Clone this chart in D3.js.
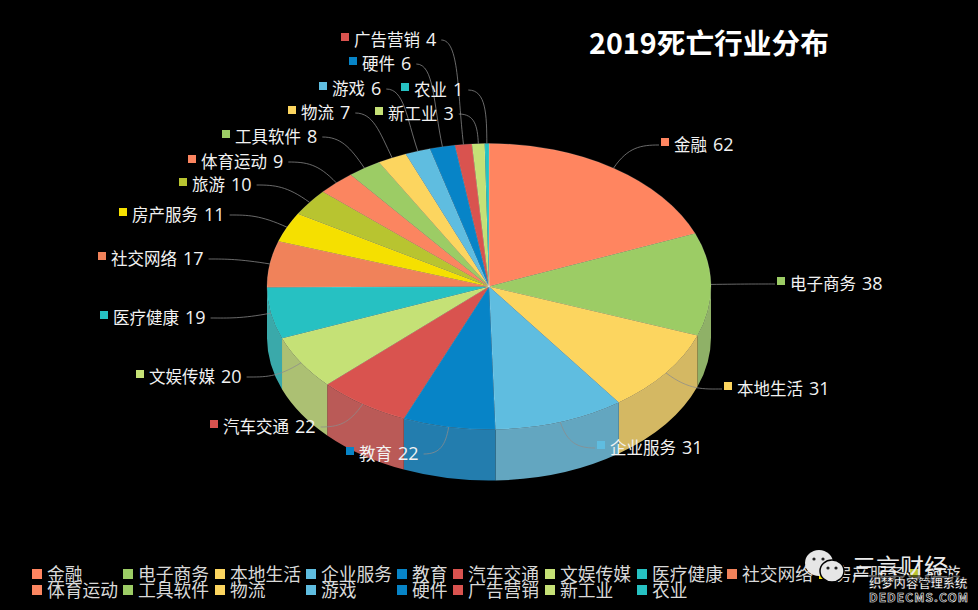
<!DOCTYPE html>
<html><head><meta charset="utf-8">
<script src="https://cdnjs.cloudflare.com/ajax/libs/d3/7.8.5/d3.min.js"></script>
<style>html,body{margin:0;background:#000;overflow:hidden}svg{display:block}text{font-family:"Noto Sans CJK SC","Noto Sans",sans-serif}</style>
</head><body><svg id="c" width="978" height="610"></svg>
<script>
const categories=["金融","电子商务","本地生活","企业服务","教育","汽车交通","文娱传媒","医疗健康","社交网络","房产服务","旅游","体育运动","工具软件","物流","游戏","硬件","广告营销","新工业","农业"];
const values=[62,38,31,31,22,22,20,19,17,11,10,9,8,7,6,6,4,3,1];
const colors=["#ff8560","#9ccc65","#fcd55f","#5fbde0","#0784c7","#d9534f","#c5e176","#26c1c2","#f0825a","#f5e000","#b8c430","#fb8560","#9ccc65","#fcd55f","#5fbde0","#0784c7","#d9534f","#c5e176","#26c1c2"];
const title="2019死亡行业分布";
// label anchors (layout): marker centre x, y
const labelX=[665,781,728,601,350,214,140,104,102,123,183,192,226,292,323,353,345,379,405];
const labelY=[142,281,386,445,451,424,374,315,256,212,182,159,134,110,86,61,37,111,87];

const svg=d3.select("#c");
const W=978,H=610,cx=489,cy=286.5,rx=222,ry=143,depth=51;
const pie=d3.pie().value(d=>d).sort(null)(values);
const k=ry/rx;
const px=a=>cx+rx*Math.sin(a),py=a=>cy-ry*Math.cos(a);
const wall=c=>d3.interpolateRgb(c,"#6c6c6c")(0.28);

// side walls
const sides=svg.append("g");
pie.forEach((s,i)=>{
  const a0=Math.max(s.startAngle,Math.PI/2),a1=Math.min(s.endAngle,Math.PI*1.5);
  if(a1<=a0)return;
  const d=`M${px(a0)},${py(a0)}A${rx},${ry} 0 0 1 ${px(a1)},${py(a1)}L${px(a1)},${py(a1)+depth}A${rx},${ry} 0 0 0 ${px(a0)},${py(a0)+depth}Z`;
  sides.append("path").attr("d",d).attr("fill",wall(colors[i]));
});

// top face
const arc=d3.arc().innerRadius(0).outerRadius(rx);
svg.append("g").attr("transform",`translate(${cx},${cy}) scale(1,${k})`)
 .selectAll("path").data(pie).join("path").attr("d",arc)
 .attr("fill",(d,i)=>colors[i]).attr("stroke","rgba(255,255,255,.28)").attr("stroke-width",.6);

// title
svg.append("text").attr("x",589).attr("y",41).attr("dominant-baseline","central")
 .attr("font-size",28.7).attr("font-weight",700).attr("fill","#fff").text(title);

// labels and leaders
const leaders=svg.append("g"),labels=svg.append("g");
pie.forEach((s,i)=>{
  const x=labelX[i],y=labelY[i];
  labels.append("rect").attr("x",x-4).attr("y",y-4).attr("width",8).attr("height",8).attr("fill",colors[i]);
  const t=labels.append("text").attr("x",x+9).attr("y",y+1.5).attr("dominant-baseline","central")
    .attr("font-size",16.5).attr("fill","#f2f2f2");
  t.append("tspan").text(categories[i]);
  t.append("tspan").attr("dx",6).attr("font-size",18).attr("font-family","Open Sans").text(values[i]);
  const m=(s.startAngle+s.endAngle)/2,sx=px(m),sy=py(m);
  const left=m>Math.PI;
  // right-side labels start at the marker, left-side ones leave from the end of the text
  const ex=left?x+9+t.node().getComputedTextLength()+11:x-6, ey=y+3;
  const dx=ex-sx,dy=ey-sy,len=Math.hypot(dx,dy);
  const ux=Math.sin(m),uy=-Math.cos(m);
  const p=d3.path();p.moveTo(sx,sy);
  p.bezierCurveTo(sx+ux*len*.5,sy+uy*len*.5,ex+(left?18:-18)*Math.min(1,len/40),ey,ex,ey);
  leaders.append("path").attr("d",p.toString()).attr("fill","none").attr("stroke","rgba(140,140,140,.75)").attr("stroke-width",1);
});

// legend
const legendCols=[32,123,215,306,397,453,545,637,727,819,910];
const legend=svg.append("g");
categories.forEach((c,i)=>{
  const col=i<11?i:i-11, row=i<11?0:1;
  const x=legendCols[col], y=row?589:573;
  legend.append("rect").attr("x",x).attr("y",y-4).attr("width",10).attr("height",10).attr("fill",colors[i]);
  legend.append("text").attr("x",x+15).attr("y",y).attr("dominant-baseline","central")
   .attr("font-size",17.8).attr("fill","#d9d9d9").text(c);
});

// watermark
const wm=svg.append("g");
wm.append("ellipse").attr("cx",819).attr("cy",563).attr("rx",14).attr("ry",13).attr("fill","#e6e6e6");
wm.append("ellipse").attr("cx",832).attr("cy",571).attr("rx",12).attr("ry",11).attr("fill","#e6e6e6").attr("stroke","#000").attr("stroke-width",1.5);
[[814,559],[823,559],[828,568],[836,568]].forEach(c=>wm.append("circle").attr("cx",c[0]).attr("cy",c[1]).attr("r",1.6).attr("fill","#222"));
wm.append("text").attr("x",852).attr("y",565).attr("dominant-baseline","central").attr("font-size",24).attr("fill","#ededed").text("三言财经");
wm.append("rect").attr("x",868).attr("y",575).attr("width",102).attr("height",27).attr("fill","#000").attr("opacity",.55);
wm.append("text").attr("x",869).attr("y",583).attr("dominant-baseline","central").attr("font-size",12.3).attr("font-weight",700).attr("fill","#fff").attr("stroke","#000").attr("stroke-width",.4).text("织梦内容管理系统");
wm.append("text").attr("x",869).attr("y",596).attr("dominant-baseline","central").attr("font-size",12).attr("textLength",99).attr("font-weight",700).attr("fill","#000").attr("stroke","#fff").attr("stroke-width",.6).attr("font-family","DejaVu Sans Mono").text("DEDECMS.COM");
</script></body></html>
